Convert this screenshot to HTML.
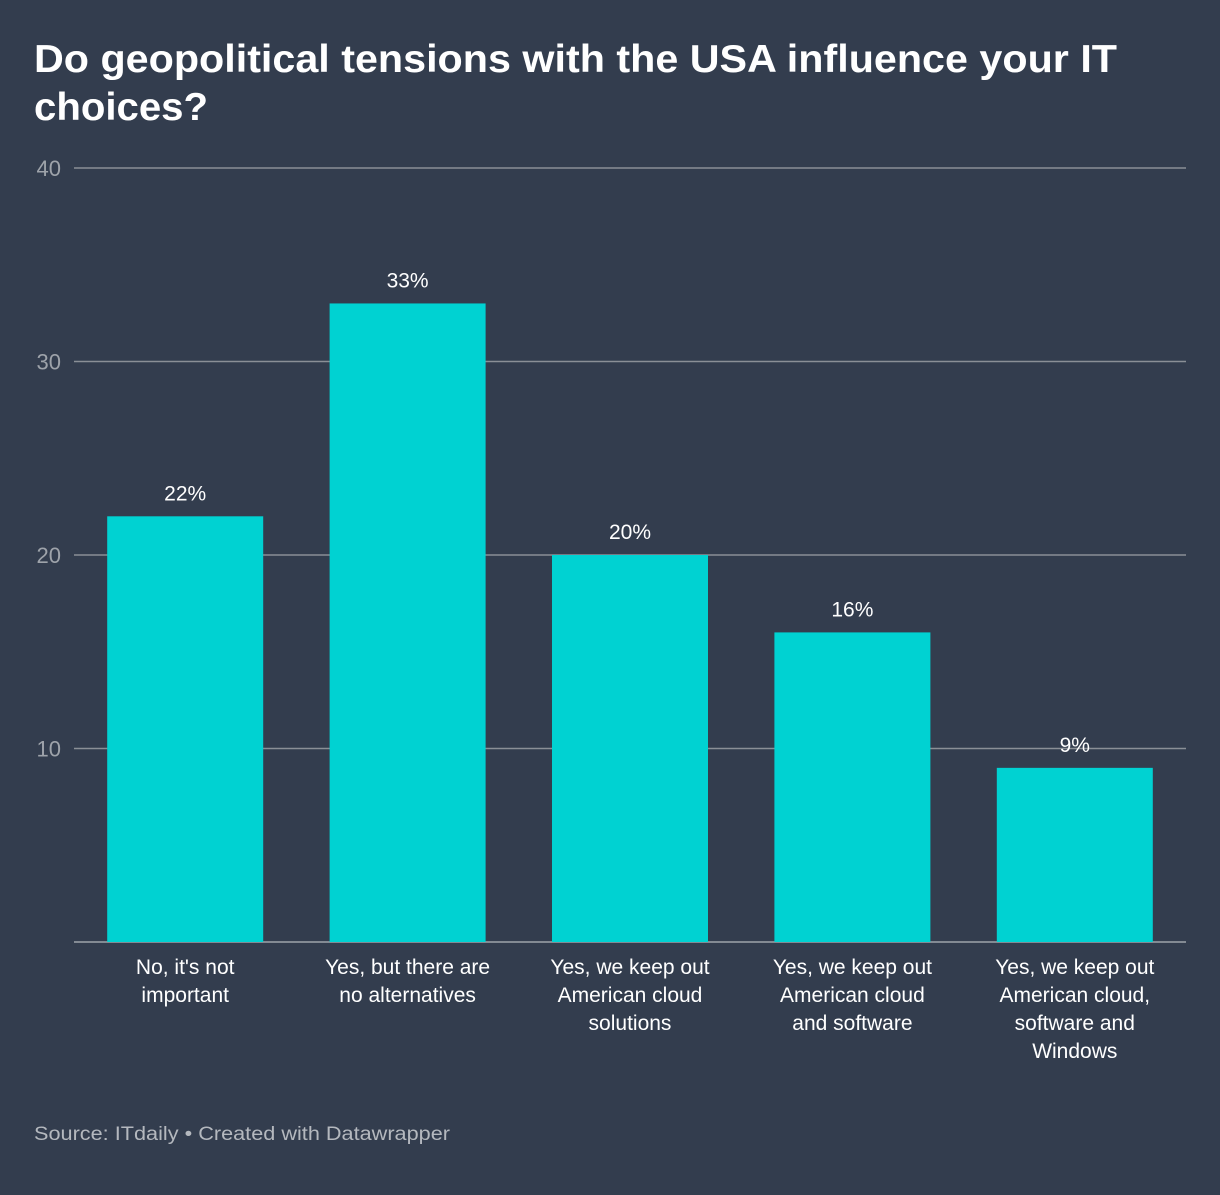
<!DOCTYPE html>
<html><head><meta charset="utf-8"><style>
html,body{margin:0;padding:0;background:#333d4e;}
body{width:1220px;height:1190px;overflow:hidden;font-family:"Liberation Sans",sans-serif;}
</style></head><body>
<svg id="chart" width="1220" height="1190" xmlns="http://www.w3.org/2000/svg" font-family="Liberation Sans, sans-serif">
<rect width="1220" height="1190" fill="#333d4e"/>
<text x="34" y="72" font-size="39" font-weight="bold" fill="#ffffff" textLength="1083" lengthAdjust="spacingAndGlyphs">Do geopolitical tensions with the USA influence your IT</text>
<text x="34" y="120" font-size="39" font-weight="bold" fill="#ffffff" textLength="174" lengthAdjust="spacingAndGlyphs">choices?</text>
<g id="grid"></g><g id="bars"></g><g id="labels"></g>
<text x="34" y="1140" font-size="19" fill="#b4b8be" textLength="416" lengthAdjust="spacingAndGlyphs">Source: ITdaily • Created with Datawrapper</text>
</svg>
<script>
const categories = [["No, it's not","important"],["Yes, but there are","no alternatives"],["Yes, we keep out","American cloud","solutions"],["Yes, we keep out","American cloud","and software"],["Yes, we keep out","American cloud,","software and","Windows"]];
const values = [22,33,20,16,9];
const valueLabels = ["22%","33%","20%","16%","9%"];
const yTicks = [10,20,30,40];
const NS="http://www.w3.org/2000/svg";
const x0=74,x1=1186,y0=942,yTop=168,yMax=40;
const y=v=>y0-(y0-yTop)*v/yMax;
const step=(x1-x0)/values.length, bw=156, off=(step-bw)/2;
const xb=i=>x0+i*step+off;
function mk(t,a,p){const e=document.createElementNS(NS,t);for(const k in a)e.setAttribute(k,a[k]);p.appendChild(e);return e;}
const grid=document.getElementById('grid'),bars=document.getElementById('bars'),labels=document.getElementById('labels');
yTicks.forEach(t=>{
 const l=mk('line',{x1:x0,x2:x1,y1:y(t),y2:y(t),stroke:'#8a8f96','stroke-width':1.5},grid);
 
 
 const tx=mk('text',{x:61,y:y(t)+8,'text-anchor':'end','font-size':22,fill:'#9ea3aa'},grid);
 tx.textContent=t;
 
 
});
values.forEach((v,i)=>{
 const r=mk('rect',{x:xb(i),y:y(v),width:bw,height:y0-y(v),fill:'#00d2d2'},bars);
 
 
 const vl=mk('text',{x:xb(i)+bw/2,y:y(v)-16,'text-anchor':'middle','font-size':21,fill:'#ffffff'},labels);
 vl.textContent=valueLabels[i];
 
 
 categories[i].forEach((line,j)=>{
  const c=mk('text',{x:xb(i)+bw/2,y:974+j*28,'text-anchor':'middle','font-size':21,fill:'#ffffff'},labels);
  c.textContent=line;
  
  
 });
});
const base=mk('line',{x1:x0,x2:x1,y1:y0,y2:y0,stroke:'#9ea3aa','stroke-width':1.5},grid);


</script>
</body></html>
